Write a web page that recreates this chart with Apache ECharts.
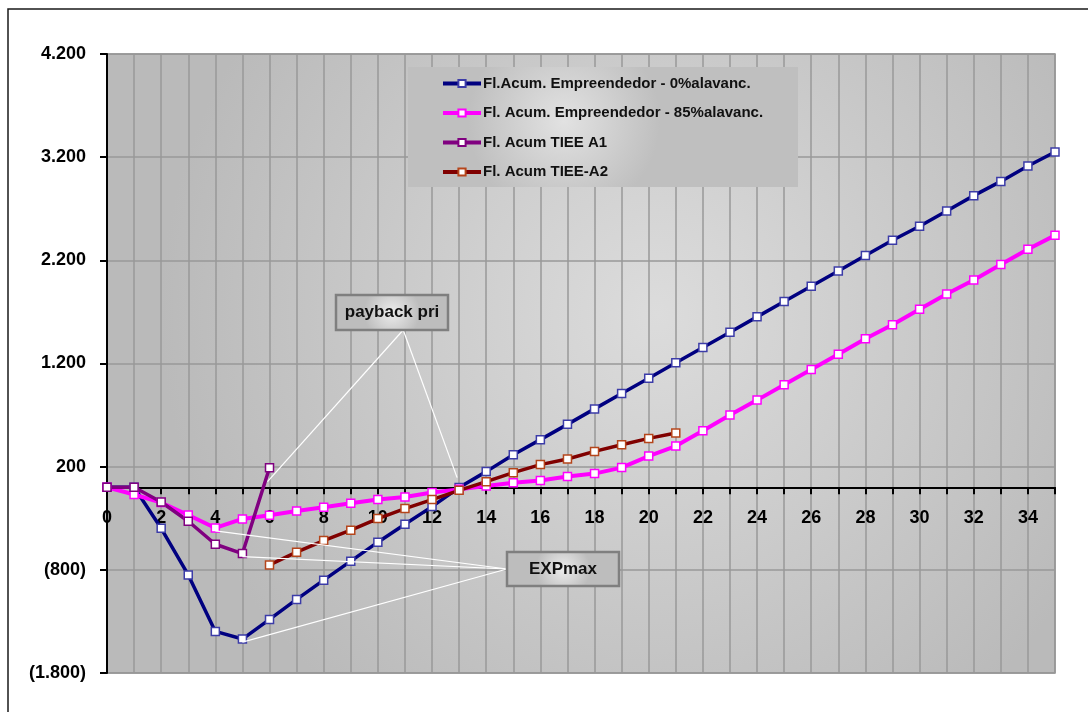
<!DOCTYPE html>
<html>
<head>
<meta charset="utf-8">
<title>Fluxo acumulado</title>
<script src="https://cdn.jsdelivr.net/npm/echarts@6/dist/echarts.min.js"></script>
<style>
  html, body { margin: 0; padding: 0; background: #ffffff; }
  #chart { width: 1088px; height: 712px; }
</style>
</head>
<body>
<div id="chart"></div>
<script>
// Periods (years) on the horizontal axis
const periods = ['0','1','2','3','4','5','6','7','8','9','10','11','12','13','14','15','16','17',
                 '18','19','20','21','22','23','24','25','26','27','28','29','30','31','32','33','34','35'];

// Accumulated cash flows
const flEmp0 = [0, 0, -397, -849, -1397, -1471, -1281, -1087, -900, -716, -532, -358, -187, -3,
                152, 316, 462, 610, 760, 910, 1058, 1207, 1355, 1503, 1652, 1800, 1949, 2097,
                2246, 2394, 2530, 2679, 2827, 2965, 3114, 3250];
const flEmp85 = [0, -70, -148, -268, -394, -307, -271, -229, -194, -155, -119, -94, -51, -20,
                 13, 45, 65, 104, 133, 191, 303, 400, 549, 700, 845, 994, 1142, 1290,
                 1439, 1575, 1726, 1874, 2010, 2159, 2307, 2442];
const flTieeA1 = [0, 0, -142, -329, -552, -642, 190];
const flTieeA2 = [null, null, null, null, null, null, -752, -629, -516, -416, -303, -206,
                  -119, -29, 55, 142, 220, 274, 348, 413, 474, 526];

const seriesNames = [
  'Fl.Acum. Empreendedor - 0%alavanc.',
  'Fl. Acum. Empreendedor - 85%alavanc.',
  'Fl. Acum TIEE A1',
  'Fl. Acum TIEE-A2'
];

// Y axis ticks
const yMin = -1800, yMax = 4200, yStep = 1000;

// Callout labels
const paybackLabel = 'payback pri';
const expLabel = 'EXPmax';

const FONT = '"Liberation Sans", Arial, Helvetica, sans-serif';

// Plot area
const GRID = { left: 107, top: 54, right: 33, bottom: 39 };
const CHART_H = 712;

function fmtThousands(v) {
  const s = Math.abs(Math.round(v)).toString().replace(/\B(?=(\d{3})+(?!\d))/g, '.');
  return v < 0 ? '(' + s + ')' : s;
}

// the category axis (line, ticks and labels) sits on the zero level of the value axis
const plotH = CHART_H - GRID.top - GRID.bottom;
const zeroOffset = -plotH * (0 - yMin) / (yMax - yMin);

const chart = echarts.init(document.getElementById('chart'), null, { renderer: 'canvas' });

function lineSeries(name, data, color, markerBorder, width) {
  return {
    name: name,
    type: 'line',
    data: data,
    color: color,
    symbol: 'rect',
    symbolSize: 8,
    showSymbol: true,
    showAllSymbol: true,
    connectNulls: false,
    animation: false,
    lineStyle: { color: color, width: width },
    itemStyle: { color: '#ffffff', borderColor: markerBorder, borderWidth: 1.5 },
    emphasis: { disabled: true }
  };
}

const plotBg = new echarts.graphic.RadialGradient(0.58, 0.42, 0.8, [
  { offset: 0, color: '#dcdcdc' },
  { offset: 1, color: '#bababa' }
]);

chart.setOption({
  backgroundColor: '#ffffff',
  animation: false,
  grid: {
    left: GRID.left, top: GRID.top, right: GRID.right, bottom: GRID.bottom,
    show: true,
    backgroundColor: plotBg,
    borderColor: '#8f8f8f',
    borderWidth: 1.5
  },
  legend: {
    orient: 'vertical',
    left: 441,
    top: 76,
    padding: 0,
    itemWidth: 38,
    itemHeight: 9,
    itemGap: 14.5,
    z: 6,
    selectedMode: false,
    lineStyle: { width: 4 },
    textStyle: { fontFamily: FONT, fontWeight: 'bold', fontSize: 15, color: '#111', lineHeight: 14, padding: [0, 0, 0, -3] },
    data: seriesNames
  },
  xAxis: {
    type: 'category',
    data: periods,
    boundaryGap: false,
    offset: zeroOffset,
    axisLine: { onZero: false, lineStyle: { color: '#000', width: 2 } },
    axisTick: { show: true, interval: 0, length: 7, inside: false, lineStyle: { color: '#000', width: 2 } },
    axisLabel: {
      interval: 1, margin: 22, hideOverlap: false,
      fontFamily: FONT, fontWeight: 'bold', fontSize: 18, color: '#000'
    },
    splitLine: { show: true, interval: 0, lineStyle: { color: '#999999', width: 1.5 } }
  },
  yAxis: {
    type: 'value',
    min: yMin, max: yMax, interval: yStep,
    axisLine: { show: true, onZero: false, lineStyle: { color: '#000', width: 2 } },
    axisTick: { show: true, length: 7, lineStyle: { color: '#000', width: 2 } },
    axisLabel: {
      margin: 21, formatter: fmtThousands,
      fontFamily: FONT, fontWeight: 'bold', fontSize: 18, color: '#000'
    },
    splitLine: { show: true, lineStyle: { color: '#999999', width: 1.5 } }
  },
  series: [
    lineSeries(seriesNames[0], flEmp0, '#000080', '#3c3ca8', 3.5),
    lineSeries(seriesNames[1], flEmp85, '#ff00ff', '#ff00ff', 4),
    lineSeries(seriesNames[2], flTieeA1, '#800080', '#800080', 3.5),
    lineSeries(seriesNames[3], flTieeA2, '#800000', '#b5451b', 3.5)
  ]
});

// Callouts and frames, placed from the data points they refer to
function px(seriesIndex, x, y) {
  return chart.convertToPixel({ seriesIndex: seriesIndex }, [x, y]);
}

const boxFill = () => new echarts.graphic.RadialGradient(0.5, 0.5, 0.75, [
  { offset: 0, color: '#ececec' },
  { offset: 1, color: '#bdbdbd' }
]);

const payBox = { x: 336, y: 295, w: 112, h: 35 };
const expBox = { x: 507, y: 552, w: 112, h: 34 };

const payAnchor = [payBox.x + payBox.w * 0.6, payBox.y + payBox.h];
const expAnchor = [expBox.x, expBox.y + expBox.h / 2];

const payTargets = [px(2, 6, flTieeA1[6]), px(0, 13, flEmp0[13])];
const expTargets = [px(1, 4, flEmp85[4]), px(2, 5, flTieeA1[5]), px(0, 5, flEmp0[5])];

const calloutLines = [];
payTargets.forEach(function (p, i) {
  // the leader stops just short of the marker
  const end = i === 0 ? [p[0] - 2, p[1] + 14] : [p[0] - 2, p[1] - 10];
  calloutLines.push({
    type: 'line', z: 5, silent: true,
    shape: { x1: payAnchor[0], y1: payAnchor[1], x2: end[0], y2: end[1] },
    style: { stroke: '#ffffff', lineWidth: 1.2 }
  });
});
expTargets.forEach(function (p) {
  calloutLines.push({
    type: 'line', z: 5, silent: true,
    shape: { x1: expAnchor[0], y1: expAnchor[1], x2: p[0], y2: p[1] + 3 },
    style: { stroke: '#ffffff', lineWidth: 1.2 }
  });
});

function calloutBox(b, text) {
  return [
    {
      type: 'rect', z: 7, silent: true,
      shape: { x: b.x, y: b.y, width: b.w, height: b.h },
      style: { fill: boxFill(), stroke: '#7f7f7f', lineWidth: 2.5 }
    },
    {
      type: 'text', z: 8, silent: true,
      x: b.x + b.w / 2, y: b.y + b.h / 2,
      style: {
        text: text, fill: '#111', font: 'bold 17px ' + FONT,
        align: 'center', verticalAlign: 'middle'
      }
    }
  ];
}

chart.setOption({
  graphic: [
    {
      type: 'rect', z: 1, silent: true,
      shape: { x: 8, y: 9, width: 1200, height: 800 },
      style: { fill: null, stroke: '#1a1a1a', lineWidth: 1.5 }
    },
    {
      type: 'rect', z: 4, silent: true,
      shape: { x: 408, y: 67, width: 390, height: 120 },
      style: {
        fill: new echarts.graphic.RadialGradient(0.4, 0.45, 0.8, [
          { offset: 0, color: '#e2e2e2' },
          { offset: 1, color: '#bfbfbf' }
        ])
      }
    }
  ].concat(calloutLines, calloutBox(payBox, paybackLabel), calloutBox(expBox, expLabel))
});
</script>
</body>
</html>
